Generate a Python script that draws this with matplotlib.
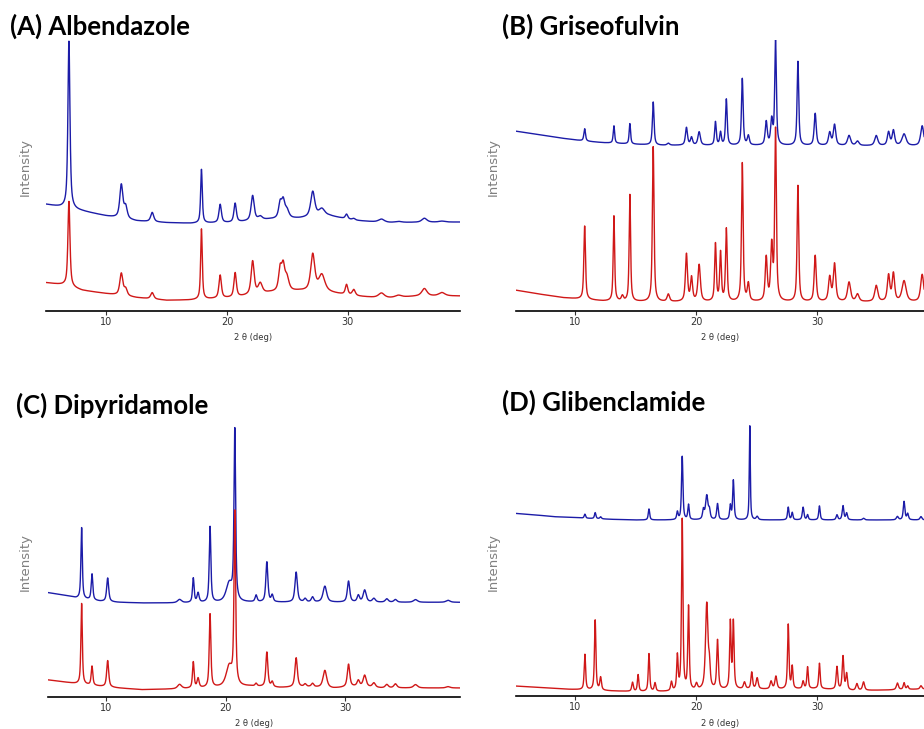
import numpy as np
import matplotlib.pyplot as plt

# 2-theta grid (deg)
tt = np.linspace(5, 40, 3501)

# ---------------- (A) Albendazole ----------------
a_pos = [6.9, 11.24, 11.6, 13.8, 17.88, 19.43, 20.67, 22.12, 22.75, 24.4, 24.65, 24.95,
         27.1, 27.85, 29.9, 30.5, 32.8, 34.2, 36.35, 37.8]
a_wid = [0.1, 0.15, 0.15, 0.15, 0.08, 0.12, 0.12, 0.15, 0.2, 0.15, 0.15, 0.2,
         0.2, 0.3, 0.12, 0.15, 0.3, 0.3, 0.25, 0.3]
a_blue = [502, 100, 35, 28, 161, 55, 57, 75, 10, 45, 48, 25, 76, 22, 14, 5, 10, 3, 12, 3]
a_red = [255, 66, 20, 19, 211, 69, 73, 100, 30, 65, 68, 40, 110, 50, 30, 18, 15, 6, 22, 10]
a_bg_x = [5, 6.5, 8, 10, 12.5, 15, 17, 20.5, 23.5, 26, 28.5, 30.5, 33, 36, 40]
a_bg_blue = [320, 310, 300, 285, 270, 265, 263, 265, 275, 278, 285, 272, 265, 266, 267]
a_bg_red = [85, 78, 62, 52, 40, 32, 33, 40, 55, 60, 55, 45, 38, 45, 45]

# ---------------- (B) Griseofulvin ----------------
b_pos = [10.78, 13.2, 13.9, 14.52, 16.45, 17.7, 19.2, 19.62, 20.25, 21.6, 22.02, 22.5,
         23.82, 24.32, 25.8, 26.25, 26.57, 28.42, 29.85, 31.05, 31.45, 32.65, 33.35,
         34.9, 35.92, 36.32, 37.2, 38.7]
b_wid = [0.08, 0.07, 0.1, 0.07, 0.08, 0.12, 0.1, 0.1, 0.12, 0.08, 0.08, 0.08,
         0.08, 0.1, 0.1, 0.1, 0.08, 0.08, 0.1, 0.12, 0.12, 0.15, 0.15,
         0.15, 0.12, 0.12, 0.2, 0.15]
b_blue = [37, 52, 0, 61, 129, 6, 53, 23, 40, 70, 38, 138, 200, 28, 70, 73, 313, 252,
          96, 38, 62, 30, 13, 30, 40, 45, 35, 60]
b_red = [220, 255, 15, 320, 465, 22, 142, 70, 110, 172, 145, 217, 415, 52, 130, 162, 512,
         348, 138, 72, 112, 58, 22, 48, 78, 83, 62, 82]
b_bg_x = [5, 6.8, 9, 10.7, 12.3, 15, 17, 40]
b_bg_blue = [540, 530, 518, 510, 505, 500, 497, 495]
b_bg_red = [63, 52, 40, 35, 30, 28, 27, 27]

# ---------------- (C) Dipyridamole ----------------
c_pos = [7.96, 8.83, 10.14, 16.15, 17.3, 17.7, 18.7, 20.3, 20.77, 22.55, 23.45, 23.9,
         25.9, 26.65, 27.27, 28.3, 30.28, 31.1, 31.63, 32.4, 33.48, 34.2, 35.88, 38.6]
c_wid = [0.07, 0.08, 0.1, 0.2, 0.08, 0.1, 0.08, 0.3, 0.08, 0.1, 0.1, 0.1,
         0.12, 0.12, 0.12, 0.18, 0.12, 0.12, 0.15, 0.15, 0.15, 0.15, 0.2, 0.2]
c_blue = [213, 78, 71, 10, 73, 28, 227, 55, 510, 20, 120, 20, 90, 10, 15, 48, 63, 20,
          36, 11, 10, 8, 8, 6]
c_red = [242, 57, 79, 13, 78, 28, 220, 60, 515, 8, 104, 15, 88, 8, 10, 52, 68, 17,
         34, 13, 10, 12, 10, 4]
c_bg_x = [5, 6.7, 7.5, 9.5, 11, 13, 16, 19, 22, 24.5, 27, 29, 31, 33, 40]
c_bg_blue = [314, 304, 297, 287, 284, 282, 282, 283, 284, 284, 284, 284, 284, 284, 284]
c_bg_red = [52, 44, 40, 32, 27, 22, 24, 28, 32, 28, 30, 26, 32, 27, 27]

# ---------------- (D) Glibenclamide ----------------
d_pos = [10.8, 11.65, 12.1, 14.74, 15.2, 16.1, 16.6, 17.96, 18.45, 18.85, 19.37, 20.03,
         20.6, 20.88, 21.1, 21.77, 22.83, 23.08, 24.0, 24.44, 24.6, 25.05, 26.2, 26.6,
         27.62, 27.95, 28.85, 29.22, 30.2, 31.65, 32.15, 32.45, 33.3, 33.85, 36.65,
         37.2, 37.5, 38.6]
d_wid = [0.07, 0.07, 0.08, 0.08, 0.07, 0.07, 0.08, 0.08, 0.07, 0.07, 0.07, 0.1,
         0.08, 0.12, 0.08, 0.08, 0.07, 0.07, 0.1, 0.05, 0.08, 0.1, 0.1, 0.1,
         0.07, 0.07, 0.08, 0.07, 0.07, 0.08, 0.08, 0.08, 0.1, 0.1, 0.1,
         0.08, 0.08, 0.1]
d_blue = [12, 18, 6, 0, 0, 33, 0, 0, 23, 190, 45, 0, 28, 72, 25, 48, 42, 118, 0, 282,
          0, 10, 0, 0, 38, 22, 38, 15, 42, 15, 42, 20, 0, 5, 10, 55, 18, 10]
d_red = [106, 210, 38, 27, 50, 113, 25, 27, 103, 513, 250, 18, 0, 258, 60, 147, 200, 200,
         20, 0, 50, 33, 23, 38, 193, 66, 22, 65, 76, 68, 100, 48, 20, 25, 20, 20, 10, 10]
d_bg_x = [5, 6.8, 8.2, 9.5, 11, 13, 15, 18, 22, 24, 27, 30, 33, 36, 40]
d_bg_blue = [548, 543, 538, 536, 533, 530, 528, 528, 528, 528, 528, 528, 528, 528, 528]
d_bg_red = [30, 26, 23, 20, 18, 15, 13, 13, 18, 20, 20, 22, 16, 18, 22]


def pattern(pos, amp, wid, bg_x, bg_y, eta=0.7):
    # pseudo-Voigt peaks on top of a background
    y = np.interp(tt, bg_x, bg_y)
    for p, a, w in zip(pos, amp, wid):
        d = (tt - p) / w
        y = y + a * (eta / (1 + d ** 2) + (1 - eta) * np.exp(-np.log(2) * d ** 2))
    return y


BLUE = '#1c1ca8'
RED = '#d01818'

fig = plt.figure(figsize=(9.24, 7.29), dpi=100)
W, H = 924, 729


def make_axes(left, right, bottom, top):
    return fig.add_axes([left / W, (H - bottom) / H, (right - left) / W, (bottom - top) / H])


def setup(ax, xlim):
    ax.set_xlim(*xlim)
    ax.set_ylim(0, 813)
    for s in ['left', 'right', 'top']:
        ax.spines[s].set_visible(False)
    ax.spines['bottom'].set_linewidth(1.2)
    ax.set_yticks([])
    ax.set_xticks([10, 20, 30])
    ax.tick_params(axis='x', length=3, width=0.8, labelsize=7, pad=1, colors='#333333')
    ax.set_xlabel('2 θ (deg)', fontsize=6, color='#333333', labelpad=5)
    ax.patch.set_alpha(0)


panels = [
    ('(A) Albendazole', (46, 460, 311, 40), (5.0, 39.3), a_pos, a_wid, a_blue, a_red,
     a_bg_x, a_bg_blue, a_bg_red, (10, 26), (25, 167)),
    ('(B) Griseofulvin', (516, 924, 311, 40), (5.1, 38.85), b_pos, b_wid, b_blue, b_red,
     b_bg_x, b_bg_blue, b_bg_red, (502, 26), (493, 167)),
    ('(C) Dipyridamole', (48, 460, 697, 426), (5.15, 39.6), c_pos, c_wid, c_blue, c_red,
     c_bg_x, c_bg_blue, c_bg_red, (16, 405), (25, 562)),
    ('(D) Glibenclamide', (516, 924, 696, 425), (5.1, 38.85), d_pos, d_wid, d_blue, d_red,
     d_bg_x, d_bg_blue, d_bg_red, (502, 402), (493, 562)),
]

for (title, box, xlim, pos, wid, blue, red, bgx, bgb, bgr, tpos, ypos) in panels:
    ax = make_axes(*box)
    ax.plot(tt, pattern(pos, blue, wid, bgx, bgb), color=BLUE, lw=1.0)
    ax.plot(tt, pattern(pos, red, wid, bgx, bgr), color=RED, lw=1.0)
    setup(ax, xlim)
    fig.text(tpos[0] / W, 1 - tpos[1] / H, title, fontsize=18.5, fontweight='bold',
             family='Lato', ha='left', va='center')
    fig.text(ypos[0] / W, 1 - ypos[1] / H, 'Intensity', fontsize=9.5, color='#808080',
             rotation=90, ha='center', va='center')

fig.savefig('out.png', dpi=100, facecolor='white')
